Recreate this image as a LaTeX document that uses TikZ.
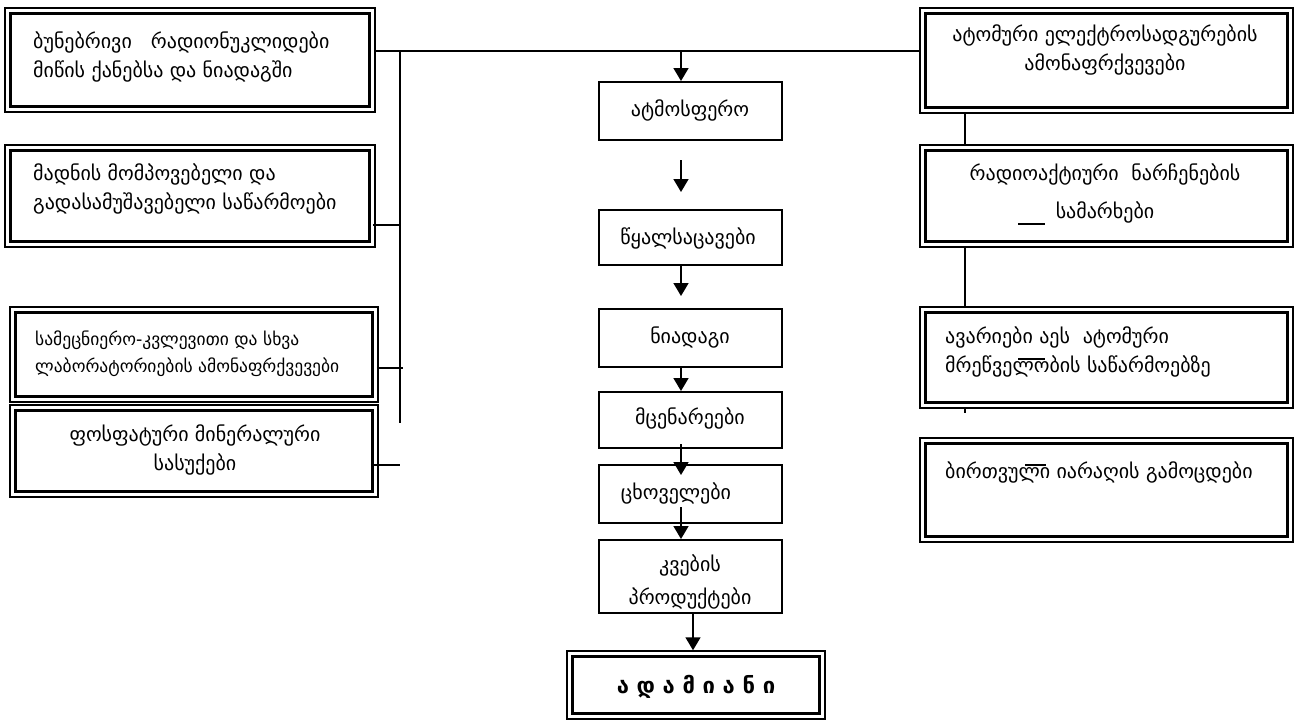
\documentclass[tikz,border=0pt]{standalone}
\usepackage{fontspec}
\newfontfamily\geo{DejaVu Sans}
\usetikzlibrary{arrows.meta}
\begin{document}
\begin{tikzpicture}[x=1pt,y=-1pt,
  fr/.style={draw, line width=1.5pt, inner sep=0pt,
    path picture={\draw[line width=3pt]
      ([xshift=5.5pt,yshift=-5.5pt]path picture bounding box.north west) rectangle
      ([xshift=-5.5pt,yshift=5.5pt]path picture bounding box.south east);}},
  sb/.style={draw, line width=2pt, inner sep=0pt, minimum width=183pt},
  txt/.style={inner sep=0pt, font=\geo\fontsize{20}{29}\selectfont},
  stxt/.style={inner sep=0pt, font=\geo\fontsize{17.5}{27}\selectfont},
  ln/.style={line width=1.3pt},
  arr/.style={line width=1.6pt, -{Triangle[length=13pt,width=15pt]}}
]
\useasboundingbox[fill=white] (0,0) rectangle (1308,721);
% left boxes
\node[fr, minimum width=370pt, minimum height=104pt] (L1) at (190,60) {};
\node[fr, minimum width=370pt, minimum height=102pt] (L2) at (190,196) {};
\node[fr, minimum width=368pt, minimum height=95pt] (L3) at (194,354.5) {};
\node[fr, minimum width=368pt, minimum height=92pt] (L4) at (194,451) {};
% right boxes
\node[fr, minimum width=373pt, minimum height=105pt] (R1) at (1106.5,60.5) {};
\node[fr, minimum width=373pt, minimum height=102pt] (R2) at (1106.5,196) {};
\node[fr, minimum width=373pt, minimum height=101pt] (R3) at (1106.5,357.5) {};
\node[fr, minimum width=373pt, minimum height=104pt] (R4) at (1106.5,490) {};
% centre boxes
\node[sb, minimum height=58pt] (C1) at (690.5,111) {};
\node[sb, minimum height=55pt] (C2) at (690.5,237.5) {};
\node[sb, minimum height=58pt] (C3) at (690.5,338) {};
\node[sb, minimum height=56pt] (C4) at (690.5,420) {};
\node[sb, minimum height=58pt] (C5) at (690.5,494) {};
\node[sb, minimum height=73pt] (C6) at (690.5,576.5) {};
\node[fr, minimum width=258pt, minimum height=68pt] (C7) at (696,685) {};
% texts
\node[txt, anchor=west, align=left] (L1t) at (33,56.5) {ბუნებრივი \ \ რადიონუკლიდები\\მიწის ქანებსა და ნიადაგში};
\node[txt, anchor=west, align=left] (L2t) at (33,188.5) {მადნის მომპოვებელი და\\გადასამუშავებელი საწარმოები};
\node[stxt, anchor=west, align=left] (L3t) at (35,353.5) {სამეცნიერო-კვლევითი და სხვა\\ლაბორატორიების ამონაფრქვევები};
\node[txt, align=center] (L4t) at (195,450) {ფოსფატური მინერალური\\სასუქები};
\node[txt, align=center] (R1t) at (1105,50) {ატომური ელექტროსადგურების\\ამონაფრქვევები};
\node[txt, align=center] (R2t) at (1105,193) {რადიოაქტიური \ ნარჩენების\\[9pt]სამარხები};
\node[txt, anchor=west, align=left] (R3t) at (945,351.5) {ავარიები აეს \ ატომური\\მრეწველობის საწარმოებზე};
\node[txt, anchor=west] (R4t) at (945,472) {ბირთვული იარაღის გამოცდები};
\node[txt] (C1t) at (690,110) {ატმოსფერო};
\node[txt] (C2t) at (688,238) {წყალსაცავები};
\node[txt] (C3t) at (690,338) {ნიადაგი};
\node[txt] (C4t) at (690,418) {მცენარეები};
\node[txt] (C5t) at (676,493) {ცხოველები};
\node[txt, align=center] (C6t) at (690,581.5) {კვების\\[4pt]პროდუქტები};
\node[inner sep=0pt, font=\geo\bfseries\fontsize{22}{26}\selectfont] (C7t) at (696,687) {ა დ ა მ ი ა ნ ი};
% helper coordinates
\coordinate (hl) at (0,51);
\coordinate (ax) at (681,0);
\coordinate (ax2) at (693,0);
\coordinate (vl) at (400,0);
\coordinate (vlb) at (400,423);
\coordinate (vr) at (965,0);
\coordinate (vrb) at (965,413);
\coordinate (a2s) at (681,160);
\coordinate (a2e) at (681,192);
\coordinate (y2) at (0,225);
\coordinate (y3) at (0,368);
\coordinate (y4) at (0,465);
% connectors left
\draw[ln] (L1.east |- hl) -- (R1.west |- hl);
\draw[ln] (vl |- hl) -- (vlb);
\draw[ln] ([xshift=-3pt]L2.east |- y2) -- (vl |- y2);
\draw[ln] ([xshift=-2pt]L3.east |- y3) -- ([xshift=3pt]vl |- y3);
\draw[ln] ([xshift=-8pt]L4.east |- y4) -- (vl |- y4);
% connectors right
\draw[ln] (R1.south -| vr) -- (R2.north -| vr);
\draw[ln] (R2.south -| vr) -- (R3.north -| vr);
\draw[ln] (R3.south -| vr) -- (vrb);
% stray marks
\coordinate (m1a) at (1018,224); \coordinate (m1b) at (1045,224);
\coordinate (m2a) at (1018,359); \coordinate (m2b) at (1045,359);
\coordinate (m3a) at (1025,465); \coordinate (m3b) at (1046,465);
\draw[line width=1.2pt] (m1a) -- (m1b);
\draw[line width=1.2pt] (m2a) -- (m2b);
\draw[line width=1.2pt] (m3a) -- (m3b);
% arrows centre
\draw[arr] (ax |- hl) -- (C1.north -| ax);
\draw[arr] (a2s) -- (a2e);
\draw[arr, shorten >=12pt] (C2.south -| ax) -- (C3.north -| ax);
\draw[arr] (C3.south -| ax) -- (C4.north -| ax);
\draw[arr] ([yshift=5pt]C4.south -| ax) -- ([yshift=-11pt]C5.north -| ax);
\draw[arr] ([yshift=32pt]C6.north -| ax) -- (C6.north -| ax);
\draw[arr] (C6.south -| ax2) -- (C7.north -| ax2);
\end{tikzpicture}
\end{document}
